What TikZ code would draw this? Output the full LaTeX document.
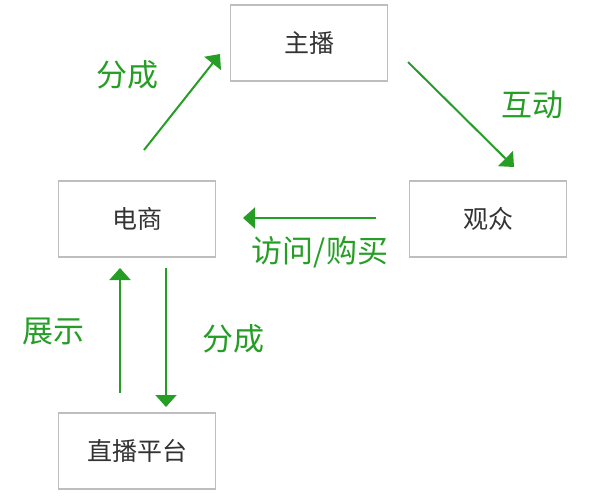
\documentclass[tikz,border=0pt]{standalone}
\usepackage{fontspec}
\usepackage{xcolor}
\usepackage{tikz}
\usetikzlibrary{positioning, arrows.meta}
\newfontfamily\cjk{Noto Sans CJK SC}
\definecolor{flowgreen}{RGB}{38,158,38}
\definecolor{boxgray}{RGB}{190,190,190}

\begin{document}
\begin{tikzpicture}[x=1pt,y=-1pt,
          party/.style={rectangle,draw=boxgray,line width=1.5pt,minimum width=157pt,minimum height=76pt,font=\cjk\fontsize{25}{25}\selectfont,text=black!80},
          flow/.style={draw=flowgreen,line width=2pt,-{Triangle[width=21pt,length=12pt]}},
          tag/.style={text=flowgreen,font=\cjk\fontsize{31}{31}\selectfont}
        ]
        \useasboundingbox (0,0) rectangle (600,498);
        \node[party] (host) at (309,43) {主播};
        \node[party] (shop) at (137,219) {电商};
        \node[party] (fans) at (488,219) {观众};
        \node[party] (live) at (137,451) {直播平台};
        \coordinate (a1) at (144,150); \coordinate (a2) at (220,54);
        \coordinate (b1) at (408,62);  \coordinate (b2) at (514,167);
        \coordinate (c1) at (376,218); \coordinate (c2) at (243,218);
        \coordinate (d1) at (120,393); \coordinate (d2) at (120,268);
        \coordinate (e1) at (166,268); \coordinate (e2) at (166,407);
        \draw[flow] (a1) -- (a2);
        \draw[flow] (b1) -- (b2);
        \draw[flow] (c1) -- (c2);
        \draw[flow] (d1) -- (d2);
        \draw[flow] (e1) -- (e2);
        \node[tag] (share1) at (127,75) {分成};
        \node[tag] (talk) at (532,105) {互动};
        \node[tag] (buy) at (320,252) {访问/购买};
        \node[tag] (show) at (53,331) {展示};
        \node[tag] (share2) at (233,339) {分成};
      \end{tikzpicture}
\end{document}
